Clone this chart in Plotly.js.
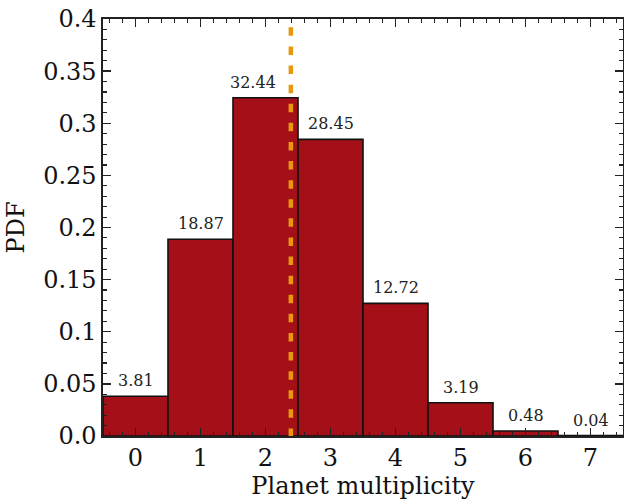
<!DOCTYPE html>
<html>
<head>
<meta charset="utf-8">
<script src="https://cdn.plot.ly/plotly-3.0.1.min.js"></script>
<style>
  html, body { margin: 0; padding: 0; background: #fff; }
  #chart { width: 624px; height: 500px; }
</style>
</head>
<body>
<div id="chart"></div>
<script>
// Planet multiplicity distribution (percent of systems per multiplicity)
const multiplicity = [0, 1, 2, 3, 4, 5, 6, 7];
const percent = [3.81, 18.87, 32.44, 28.45, 12.72, 3.19, 0.48, 0.04];
const meanMultiplicity = 2.39;

const yTickVals = [0, 0.05, 0.1, 0.15, 0.2, 0.25, 0.3, 0.35, 0.4];
const yTickText = ['0.0', '0.05', '0.1', '0.15', '0.2', '0.25', '0.3', '0.35', '0.4'];

const pdf = percent.map(p => p / 100);
const labels = percent.map(p => p.toFixed(2));

const serif = 'DejaVu Serif, serif';

// nudge the label of the tallest bar off the mean line
const labelXShift = { 2: -13 };

const bars = {
  type: 'bar',
  x: multiplicity,
  y: pdf,
  width: 1,
  marker: { color: '#a51018', line: { color: '#111', width: 1.6 } },
  hoverinfo: 'x+y'
};

const valueLabels = multiplicity.map((m, i) => ({
  x: m,
  y: pdf[i],
  xref: 'x', yref: 'y',
  text: labels[i],
  showarrow: false,
  xanchor: 'center',
  yanchor: 'bottom',
  yshift: 4,
  xshift: labelXShift[i] || 0,
  font: { family: serif, size: 16, color: '#222' }
}));

const axisCommon = {
  showgrid: false,
  zeroline: false,
  showline: true,
  linecolor: '#222',
  linewidth: 1.6,
  mirror: 'allticks',
  ticks: 'inside',
  ticklen: 8,
  tickwidth: 1.3,
  tickcolor: '#222',
  tickfont: { family: serif, size: 24, color: '#111' }
};

const layout = {
  width: 624,
  height: 500,
  margin: { l: 103, r: 1, t: 19, b: 64 },
  paper_bgcolor: '#fff',
  plot_bgcolor: '#fff',
  showlegend: false,
  bargap: 0,
  xaxis: Object.assign({}, axisCommon, {
    range: [-0.5, 7.5],
    tickvals: multiplicity,
    ticktext: multiplicity.map(String),
    minor: { dtick: 0.2, tick0: 0, ticks: 'inside', ticklen: 4, tickwidth: 1.1, tickcolor: '#222' },
    title: { text: 'Planet multiplicity', font: { family: serif, size: 24, color: '#111' }, standoff: 6 }
  }),
  yaxis: Object.assign({}, axisCommon, {
    range: [0, 0.4],
    tickvals: yTickVals,
    ticktext: yTickText,
    minor: { dtick: 0.01, tick0: 0, ticks: 'inside', ticklen: 4, tickwidth: 1.1, tickcolor: '#222' },
    title: { text: 'PDF', font: { family: serif, size: 24, color: '#111' }, standoff: 12 }
  }),
  annotations: valueLabels,
  shapes: [{
    type: 'line',
    xref: 'x', yref: 'paper',
    x0: meanMultiplicity, x1: meanMultiplicity,
    y0: 0.98, y1: 0,
    line: { color: '#e8980f', width: 4.5, dash: '8.5px,10.6px' }
  }]
};

Plotly.newPlot('chart', [bars], layout, { displayModeBar: false, staticPlot: true });
</script>
</body>
</html>
